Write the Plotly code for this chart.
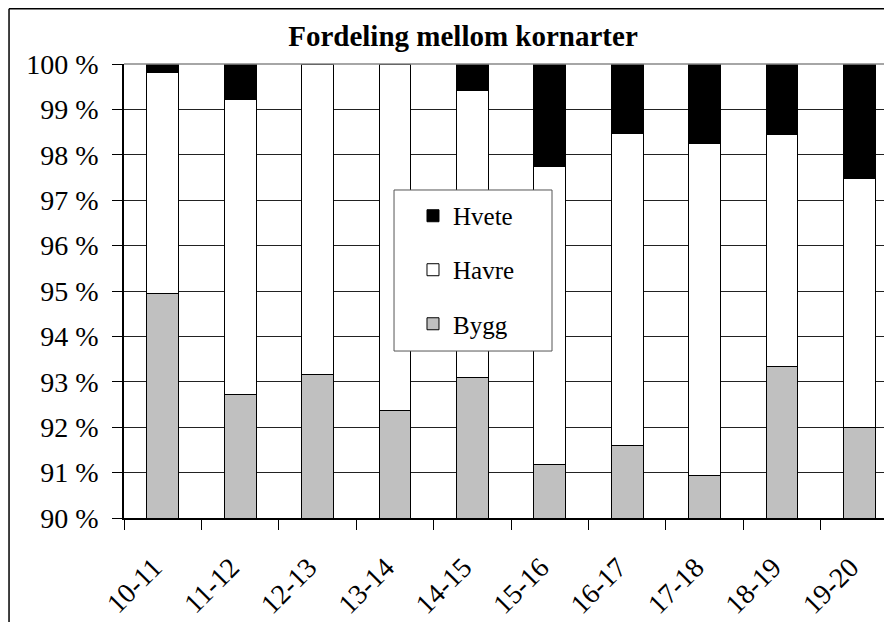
import plotly.graph_objs as go

seasons = ["10-11", "11-12", "12-13", "13-14", "14-15", "15-16", "16-17", "17-18", "18-19", "19-20"]
bygg = [94.95, 92.71, 93.15, 92.37, 93.10, 91.17, 91.59, 90.93, 93.33, 92.00]
havre = [4.86, 6.51, 6.85, 7.63, 6.31, 6.58, 6.89, 7.32, 5.12, 5.47]
hvete = [0.19, 0.78, 0.0, 0.0, 0.59, 2.25, 1.52, 1.75, 1.55, 2.53]

serif = "Liberation Serif"

fig = go.Figure()
fig.add_trace(go.Bar(x=seasons, y=bygg, name="Bygg", legend="legend3",
                     marker=dict(color="#c0c0c0", line=dict(color="#000000", width=1))))
fig.add_trace(go.Bar(x=seasons, y=havre, name="Havre", legend="legend2",
                     marker=dict(color="#ffffff", line=dict(color="#000000", width=1))))
fig.add_trace(go.Bar(x=seasons, y=hvete, name="Hvete", legend="legend",
                     marker=dict(color="#000000", line=dict(color="#000000", width=1))))

# outer chart frame (left + top visible), plot top border and the legend box
fig.add_shape(type="line", xref="paper", yref="paper", x0=-0.1497, x1=1.2, y0=1.1217, y1=1.1217,
              line=dict(color="#000000", width=1.5))
fig.add_shape(type="line", xref="paper", yref="paper", x0=-0.1497, x1=-0.1497, y0=-0.4, y1=1.1217,
              line=dict(color="#000000", width=1.5))
fig.add_shape(type="line", xref="paper", yref="paper", x0=0, x1=1, y0=1, y1=1,
              line=dict(color="#888888", width=1.5), layer="above")
fig.add_shape(type="rect", xref="paper", yref="paper", x0=0.3516, x1=0.5573, y0=0.3678, y1=0.7225,
              fillcolor="#ffffff", line=dict(color="#555555", width=1), layer="above")

leg = dict(x=0.3763, xanchor="left", yanchor="middle", bgcolor="rgba(0,0,0,0)", borderwidth=0,
           font=dict(family=serif, size=25, color="#000000"))

fig.update_layout(
    width=884, height=614,
    margin=dict(l=116, r=0, t=56, b=104),
    paper_bgcolor="#ffffff", plot_bgcolor="#ffffff",
    barmode="stack", bargap=0.59,
    showlegend=True,
    font=dict(family=serif, size=28, color="#000000"),
    title=dict(text="<b>Fordeling mellom kornarter</b>", xref="container", x=0.5147, xanchor="center",
               y=0.9544, yanchor="middle", font=dict(family=serif, size=29, color="#000000")),
    legend=dict(leg, y=0.6652),
    legend2=dict(leg, y=0.5463),
    legend3=dict(leg, y=0.4273),
    xaxis=dict(type="category", range=[-0.5, 9.42], tickson="boundaries", ticks="outside", ticklen=10,
               tickcolor="#000000", tickangle=-45, showline=True, linecolor="#000000", linewidth=1.5,
               showgrid=False, ticklabelstandoff=20, ticklabelshift=-9),
    yaxis=dict(range=[90, 100], dtick=1, ticksuffix=" %", ticks="outside", ticklen=10, tickcolor="#000000",
               showline=True, linecolor="#000000", linewidth=1.5, showgrid=True, gridcolor="#222222",
               gridwidth=1, zeroline=False, ticklabelstandoff=8),
)

fig.write_html("out.html")
